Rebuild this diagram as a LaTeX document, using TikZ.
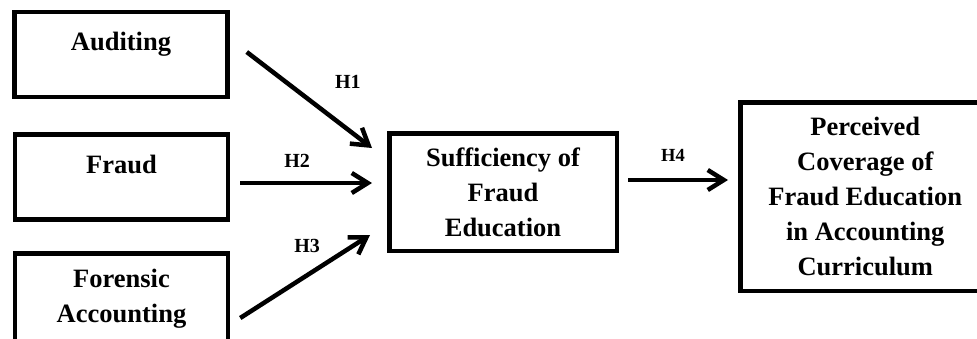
\documentclass[tikz,border=0pt]{standalone}
\usepackage{fontspec}
\setmainfont{Liberation Serif}
\usetikzlibrary{arrows.meta}

\begin{document}
\begin{tikzpicture} [
        x=1pt, y=-1pt,
        box/.style={draw, line width=4.5pt, align=center, inner sep=0pt, font=\bfseries\fontsize{26.5}{35}\selectfont},
        width/.style={minimum width=213pt},
        source/.style={box, width, minimum height=85pt},
        top text/.style={text height=18pt, text depth=26pt},
        link/.style={line width=4.5pt, -{Straight Barb[length=16pt, width=20pt]}},
        hyp/.style={font=\bfseries\fontsize{20}{22}\selectfont, inner sep=0pt},
    ]

    \useasboundingbox (0,0) rectangle (977,338);
    \clip (0,0) rectangle (977,338);

    \node[source, top text] (auditing) at (121,54.5) {Auditing};
    \node[source, top text] (fraud) at (121.5,177) {Fraud};
    \node[source, minimum height=124.5pt, text depth=40pt] (forensic) at (121.5,315.5) {Forensic\\Accounting};
    \node[box, minimum width=227.5pt, minimum height=117.5pt] (sufficiency) at (503,192) {Sufficiency of\\Fraud\\Education};
    \node[box, minimum width=250pt, minimum height=188.5pt] (coverage) at (865.25,196.5) {Perceived\\Coverage of\\Fraud Education\\in Accounting\\Curriculum};

    \draw[link] ([xshift=17pt, yshift=2.5pt]auditing.east) -- node[hyp, xshift=38.5pt, yshift=18pt] {H1} ([xshift=-15pt, yshift=44pt]sufficiency.west);
    \draw[link] ([xshift=10pt, yshift=-6pt]fraud.east) -- node[hyp, xshift=-9pt, yshift=22pt] {H2} ([xshift=-15pt, yshift=9pt]sufficiency.west);
    \draw[link] ([xshift=10pt, yshift=-2.5pt]forensic.east) -- node[hyp, xshift=2pt, yshift=30.5pt] {H3} ([xshift=-17pt, yshift=-43pt]sufficiency.west);
    \draw[link] ([xshift=9pt, yshift=12pt]sufficiency.east) -- node[hyp, font=\bfseries\fontsize{18.5}{20}\selectfont, xshift=-5pt, yshift=25pt] {H4} ([xshift=-10pt, yshift=16.5pt]coverage.west);

\end{tikzpicture}
\end{document}
